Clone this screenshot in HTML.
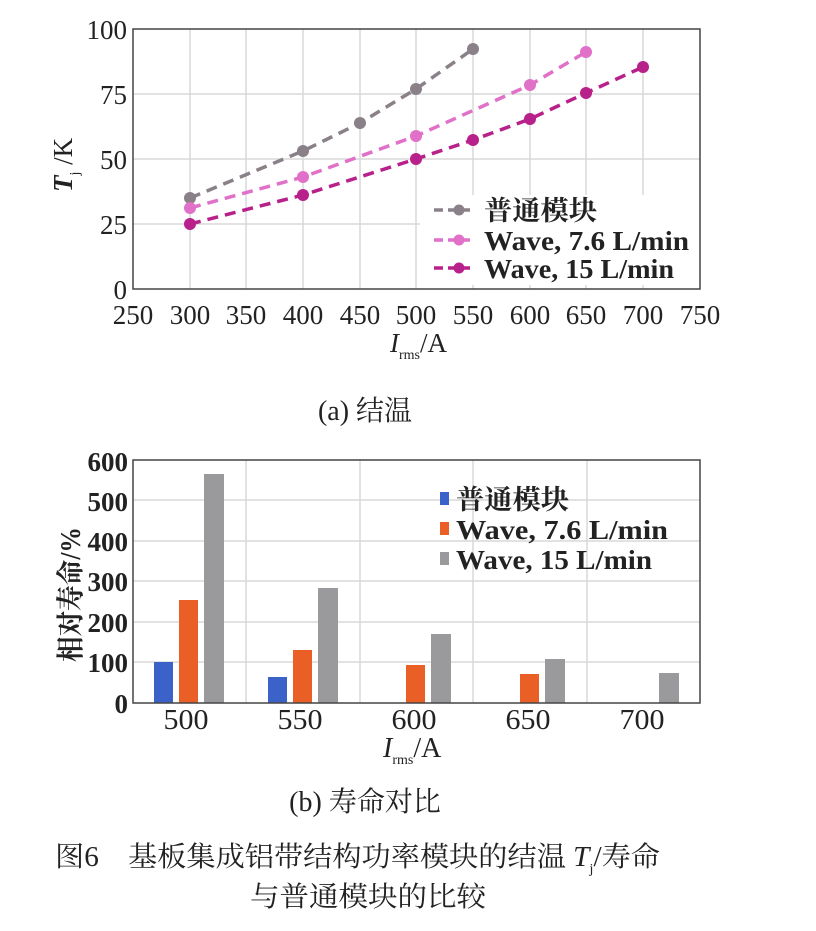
<!DOCTYPE html>
<html><head><meta charset="utf-8"><style>
body{margin:0;background:#fff;}
svg{display:block;}
.t{font-family:"Liberation Serif","Noto Serif CJK SC",serif;fill:#222;}
.b{font-weight:bold;}
</style></head><body>
<svg width="816" height="931" viewBox="0 0 816 931" xmlns="http://www.w3.org/2000/svg">
<!-- Top chart -->
<g stroke="#d8d8d8" stroke-width="1.5">
<line x1="190" y1="29" x2="190" y2="289"/><line x1="246" y1="29" x2="246" y2="289"/>
<line x1="303" y1="29" x2="303" y2="289"/><line x1="360" y1="29" x2="360" y2="289"/>
<line x1="416" y1="29" x2="416" y2="289"/><line x1="473" y1="29" x2="473" y2="289"/>
<line x1="530" y1="29" x2="530" y2="289"/><line x1="586" y1="29" x2="586" y2="289"/>
<line x1="643" y1="29" x2="643" y2="289"/>
<line x1="133" y1="94" x2="700" y2="94"/><line x1="133" y1="159" x2="700" y2="159"/><line x1="133" y1="224" x2="420" y2="224"/>
</g>
<rect x="133" y="29" width="567" height="260" fill="none" stroke="#444" stroke-width="1.5"/>
<g class="t" font-size="27" text-anchor="end">
<text x="127" y="39">100</text><text x="127" y="104">75</text><text x="127" y="169">50</text><text x="127" y="234">25</text><text x="127" y="299">0</text>
</g>
<g class="t" font-size="27" text-anchor="middle">
<text x="133" y="324">250</text><text x="190" y="324">300</text><text x="246" y="324">350</text><text x="303" y="324">400</text><text x="360" y="324">450</text><text x="416" y="324">500</text><text x="473" y="324">550</text><text x="530" y="324">600</text><text x="586" y="324">650</text><text x="643" y="324">700</text><text x="700" y="324">750</text>
</g>
<text class="t" font-size="27" x="390" y="352"><tspan font-style="italic">I</tspan><tspan font-size="14" dy="7">rms</tspan><tspan dy="-7">/A</tspan></text>
<text class="t" font-size="27" transform="translate(72,192) rotate(-90)"><tspan font-style="italic" font-weight="bold">T</tspan><tspan font-size="14" dy="7">j</tspan><tspan dy="-7"> /K</tspan></text>
<!-- series -->
<g fill="none" stroke-width="3.5" stroke-dasharray="11,7">
<polyline stroke="#8a8088" points="190,198 303,151 360,123 416,89 473,49"/>
<polyline stroke="#e070c8" points="190,208 303,177 416,136 530,85 586,52"/>
<polyline stroke="#b8208a" points="190,224 303,195 416,159 473,140 530,119 586,93 643,67"/>
</g>
<g fill="#8a8088"><circle cx="190" cy="198" r="6"/><circle cx="303" cy="151" r="6"/><circle cx="360" cy="123" r="6"/><circle cx="416" cy="89" r="6"/><circle cx="473" cy="49" r="6"/></g>
<g fill="#e070c8"><circle cx="190" cy="208" r="6"/><circle cx="303" cy="177" r="6"/><circle cx="416" cy="136" r="6"/><circle cx="530" cy="85" r="6"/><circle cx="586" cy="52" r="6"/></g>
<g fill="#b8208a"><circle cx="190" cy="224" r="6"/><circle cx="303" cy="195" r="6"/><circle cx="416" cy="159" r="6"/><circle cx="473" cy="140" r="6"/><circle cx="530" cy="119" r="6"/><circle cx="586" cy="93" r="6"/><circle cx="643" cy="67" r="6"/></g>
<!-- legend -->
<rect x="428" y="195" width="268" height="90" fill="#fff"/>
<g stroke-width="3.5" stroke-dasharray="9,5">
<line x1="434" y1="210" x2="470" y2="210" stroke="#8a8088"/>
<line x1="434" y1="240" x2="470" y2="240" stroke="#e070c8"/>
<line x1="434" y1="268" x2="470" y2="268" stroke="#b8208a"/>
</g>
<circle cx="459" cy="210" r="5.5" fill="#8a8088"/><circle cx="459" cy="240" r="5.5" fill="#e070c8"/><circle cx="459" cy="268" r="5.5" fill="#b8208a"/>
<g class="t b" font-size="27">
<text x="484" y="220" textLength="113" lengthAdjust="spacingAndGlyphs">普通模块</text>
<text x="484" y="250" textLength="205" lengthAdjust="spacingAndGlyphs">Wave, 7.6 L/min</text>
<text x="484" y="278" textLength="190" lengthAdjust="spacingAndGlyphs">Wave, 15 L/min</text>
</g>
<text class="t" font-size="28" x="365" y="420" text-anchor="middle">(a) 结温</text>

<!-- Bottom chart -->
<g stroke="#d8d8d8" stroke-width="1.5">
<line x1="133" y1="500" x2="700" y2="500"/><line x1="133" y1="541" x2="700" y2="541"/><line x1="133" y1="581" x2="700" y2="581"/><line x1="133" y1="622" x2="700" y2="622"/><line x1="133" y1="662" x2="700" y2="662"/>
<line x1="246" y1="460" x2="246" y2="703"/><line x1="360" y1="460" x2="360" y2="703"/><line x1="473" y1="460" x2="473" y2="703"/><line x1="587" y1="460" x2="587" y2="703"/>
</g>
<g fill="#3b62c8">
<rect x="154" y="662" width="19" height="41"/><rect x="268" y="677" width="19" height="26"/>
</g>
<g fill="#ea5f25">
<rect x="179" y="600" width="19" height="103"/><rect x="293" y="650" width="19" height="53"/><rect x="406" y="665" width="19" height="38"/><rect x="520" y="674" width="19" height="29"/>
</g>
<g fill="#9a9a9c">
<rect x="204" y="474" width="20" height="229"/><rect x="318" y="588" width="20" height="115"/><rect x="431" y="634" width="20" height="69"/><rect x="545" y="659" width="20" height="44"/><rect x="659" y="673" width="20" height="30"/>
</g>
<rect x="133" y="460" width="567" height="243" fill="none" stroke="#444" stroke-width="1.5"/>
<g class="t b" font-size="27" text-anchor="end">
<text x="128" y="471">600</text><text x="128" y="511">500</text><text x="128" y="551">400</text><text x="128" y="591">300</text><text x="128" y="632">200</text><text x="128" y="672">100</text><text x="128" y="713">0</text>
</g>
<g class="t" font-size="28" text-anchor="middle">
<text x="186" y="729" textLength="45" lengthAdjust="spacingAndGlyphs">500</text><text x="300" y="729" textLength="45" lengthAdjust="spacingAndGlyphs">550</text><text x="414" y="729" textLength="45" lengthAdjust="spacingAndGlyphs">600</text><text x="528" y="729" textLength="45" lengthAdjust="spacingAndGlyphs">650</text><text x="642" y="729" textLength="45" lengthAdjust="spacingAndGlyphs">700</text>
</g>
<text class="t" font-size="28" x="383" y="757"><tspan font-style="italic">I</tspan><tspan font-size="14" dy="7">rms</tspan><tspan dy="-7">/A</tspan></text>
<text class="t b" font-size="28" transform="translate(80,662) rotate(-90)" textLength="135" lengthAdjust="spacingAndGlyphs">相对寿命/%</text>
<rect x="440" y="492" width="9" height="13" fill="#3b62c8"/>
<rect x="440" y="522" width="9" height="13" fill="#ea5f25"/>
<rect x="440" y="552" width="9" height="13" fill="#9a9a9c"/>
<g class="t b" font-size="27">
<text x="456" y="509" textLength="113" lengthAdjust="spacingAndGlyphs">普通模块</text>
<text x="456" y="539" textLength="212" lengthAdjust="spacingAndGlyphs">Wave, 7.6 L/min</text>
<text x="456" y="569" textLength="196" lengthAdjust="spacingAndGlyphs">Wave, 15 L/min</text>
</g>
<text class="t" font-size="28" x="365" y="811" text-anchor="middle">(b) 寿命对比</text>
<text class="t" font-size="28" x="55" y="866" textLength="605" lengthAdjust="spacingAndGlyphs">图6　基板集成铝带结构功率模块的结温 <tspan font-style="italic">T</tspan><tspan font-size="14" dy="7">j</tspan><tspan dy="-7">/寿命</tspan></text>
<text class="t" font-size="28" x="250" y="906" textLength="236" lengthAdjust="spacingAndGlyphs">与普通模块的比较</text>
</svg>
</body></html>
